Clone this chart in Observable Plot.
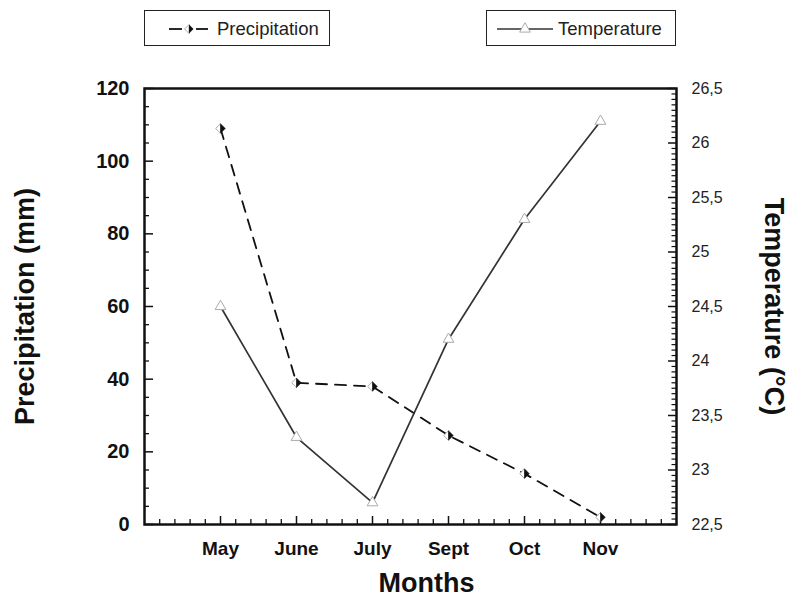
<!DOCTYPE html>
<html>
<head>
<meta charset="utf-8">
<script src="https://cdn.jsdelivr.net/npm/d3@7"></script>
<script src="https://cdn.jsdelivr.net/npm/@observablehq/plot@0.6"></script>
<style>
  html, body { margin: 0; padding: 0; background: #fff; }
  #wrap { position: relative; width: 794px; height: 602px; font-family: "Liberation Sans", Arial, sans-serif; }
  .lg { position: absolute; top: 10px; height: 36px; border: 1.6px solid #222; box-sizing: border-box; background: #fff; }
  .lg svg { position: absolute; left: 0; top: 0; }
  .lg span { position: absolute; top: 7px; font-size: 18.5px; color: #222; }
  #plot { position: absolute; left: 0; top: 50px; }
</style>
</head>
<body>
<div id="wrap">
  <div class="lg" id="lgP" style="left:144px; width:186px;">
    <svg width="186" height="34"></svg>
    <span style="left:72px;">Precipitation</span>
  </div>
  <div class="lg" id="lgT" style="left:486px; width:190px;">
    <svg width="190" height="34"></svg>
    <span style="left:71px;">Temperature</span>
  </div>
  <div id="plot"></div>
</div>
<script>
// ---- data ----
const months = ["May", "June", "July", "Sept", "Oct", "Nov"];
const precipitation = [109, 39, 38, 24.5, 14, 2];
const temperature = [24.5, 23.3, 22.7, 24.2, 25.3, 26.2];
const leftTickLabels = [0, 20, 40, 60, 80, 100, 120];
const rightTickLabels = [22.5, 23, 23.5, 24, 24.5, 25, 25.5, 26, 26.5];

// secondary (temperature) scale mapped into the precipitation y domain
const tScale = d3.scaleLinear([22.5, 26.5], [0, 120]);

const rows = months.map((m, i) => ({ month: m, pos: i + 1, p: precipitation[i], t: temperature[i] }));

// custom half-diamond symbols
const halfRight = { draw(ctx, size) { const s = Math.sqrt(size / Math.PI); ctx.moveTo(0, -s); ctx.lineTo(s, 0); ctx.lineTo(0, s); ctx.closePath(); } };
const halfLeft = { draw(ctx, size) { const s = Math.sqrt(size / Math.PI); ctx.moveTo(0, -s); ctx.lineTo(-s, 0); ctx.lineTo(0, s); ctx.closePath(); } };

// tick positions
const leftMinor = d3.range(0, 121, 5).filter(v => v % 20 !== 0);
const leftMajor = leftTickLabels;
const rightMinor = d3.range(0, 81).map(k => 22.5 + k * 0.05).filter((v, k) => k % 10 !== 0).map(tScale);
const rightMajor = rightTickLabels.map(tScale);
const xMinor = d3.range(0, 36).map(k => k / 5).filter((v, k) => k % 5 !== 0);
const xMajor = rows.map(d => d.pos);

const pxX = 76;      // px per x unit
const pxY = 436 / 120; // px per y unit
const font = "Liberation Sans, Arial, sans-serif";

const chart = Plot.plot({
  width: 794,
  height: 552,
  marginLeft: 144,
  marginRight: 118,
  marginTop: 38,
  marginBottom: 78,
  style: { fontFamily: font, background: "white", overflow: "visible" },
  x: { domain: [0, 7], axis: null },
  y: { domain: [0, 120], axis: null },
  marks: [
    // inward ticks
    Plot.ruleY(leftMinor, { y: d => d, x1: 0, x2: 5 / pxX, stroke: "#111", strokeWidth: 1.3 }),
    Plot.ruleY(leftMajor, { y: d => d, x1: 0, x2: 9 / pxX, stroke: "#111", strokeWidth: 1.5 }),
    Plot.ruleY(rightMinor, { y: d => d, x1: 7 - 4.5 / pxX, x2: 7, stroke: "#111", strokeWidth: 1.2 }),
    Plot.ruleY(rightMajor, { y: d => d, x1: 7 - 8 / pxX, x2: 7, stroke: "#111", strokeWidth: 1.5 }),
    Plot.ruleX(xMinor, { x: d => d, y1: 0, y2: 5 / pxY, stroke: "#111", strokeWidth: 1.3 }),
    Plot.ruleX(xMajor, { x: d => d, y1: 0, y2: 8 / pxY, stroke: "#111", strokeWidth: 1.5 }),
    // axes labels
    Plot.axisY(leftTickLabels, { anchor: "left", label: null, tickSize: 0, tickPadding: 15, fontSize: 20, fontWeight: "bold", fill: "#111", tickFormat: d => String(d) }),
    Plot.axisY(rightMajor, { anchor: "right", label: null, tickSize: 0, tickPadding: 15, fontSize: 16, fill: "#222", tickFormat: d => String(+tScale.invert(d).toFixed(1)).replace(".", ",") }),
    Plot.axisX(xMajor, { anchor: "bottom", label: null, tickSize: 0, tickPadding: 17, fontSize: 19, fontWeight: "bold", fill: "#111", tickFormat: d => months[d - 1] }),
    Plot.text(["Months"], { frameAnchor: "bottom", dx: 16, dy: 67, fontSize: 27, fontWeight: "bold", fill: "#111" }),
    Plot.text(["Precipitation (mm)"], { frameAnchor: "left", textAnchor: "middle", dx: -119, rotate: -90, fontSize: 27, fontWeight: "bold", fill: "#111" }),
    Plot.text(["Temperature (°C)"], { frameAnchor: "right", textAnchor: "middle", dx: 97, rotate: 90, fontSize: 27, fontWeight: "bold", fill: "#111" }),
    // series
    Plot.line(rows, { x: "pos", y: "p", stroke: "#111", strokeWidth: 1.8, strokeDasharray: "11,8" }),
    Plot.line(rows, { x: "pos", y: d => tScale(d.t), stroke: "#333", strokeWidth: 1.7 }),
    Plot.dot(rows, { x: "pos", y: "p", symbol: halfLeft, r: 4.8, fill: "white", stroke: "#aaa", strokeWidth: 1 }),
    Plot.dot(rows, { x: "pos", y: "p", symbol: halfRight, r: 4.8, fill: "#111", stroke: "#111", strokeWidth: 0.5 }),
    Plot.dot(rows, { x: "pos", y: d => tScale(d.t), symbol: "triangle", r: 4, fill: "white", stroke: "#aaa", strokeWidth: 1 }),
    Plot.frame({ stroke: "#111", strokeWidth: 2.5 })
  ]
});
document.getElementById("plot").appendChild(chart);

// legend samples
const NS = "http://www.w3.org/2000/svg";
function el(parent, tag, attrs) { const e = document.createElementNS(NS, tag); for (const k in attrs) e.setAttribute(k, attrs[k]); parent.appendChild(e); return e; }
const sp = document.querySelector("#lgP svg");
el(sp, "line", { x1: 24, y1: 18, x2: 37, y2: 18, stroke: "#111", "stroke-width": 1.8 });
el(sp, "line", { x1: 51, y1: 18, x2: 63, y2: 18, stroke: "#111", "stroke-width": 1.8 });
el(sp, "path", { d: "M44,13.5 L39.5,18 L44,22.5 Z", fill: "white", stroke: "#aaa", "stroke-width": 1 });
el(sp, "path", { d: "M44,13.5 L48.5,18 L44,22.5 Z", fill: "#111" });
const st = document.querySelector("#lgT svg");
el(st, "line", { x1: 10, y1: 18, x2: 66, y2: 18, stroke: "#333", "stroke-width": 1.5 });
el(st, "path", { d: d3.symbol(d3.symbolTriangle, 4 * 4 * Math.PI)(), transform: "translate(38,18)", fill: "white", stroke: "#aaa", "stroke-width": 1 });
</script>
</body>
</html>
